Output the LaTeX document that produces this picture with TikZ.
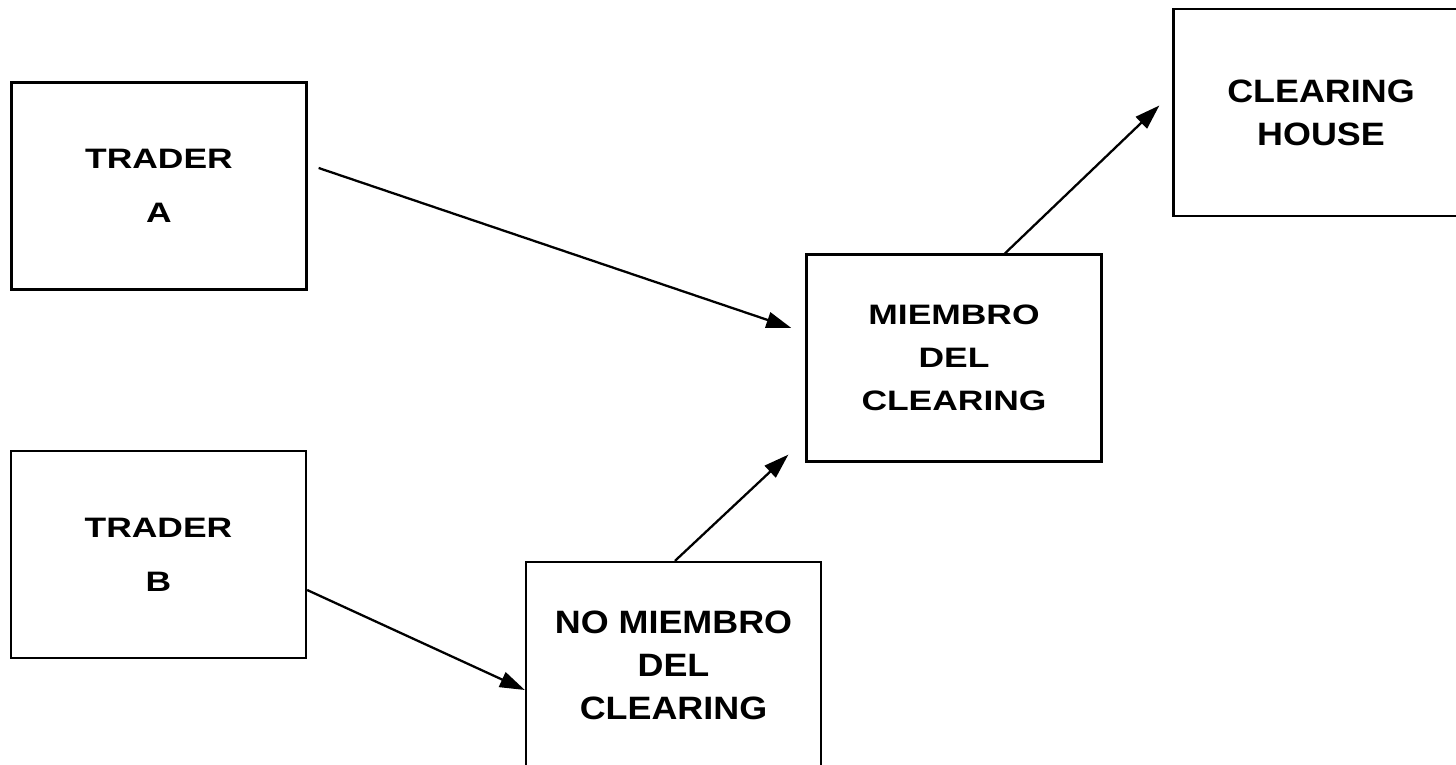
\documentclass[tikz,border=0pt]{standalone}
\usepackage{fontspec}
\newfontfamily\cajafont[FakeStretch=1.26]{Liberation Sans}
\newfontfamily\cajafontalta[FakeStretch=1.11]{Liberation Sans}
\usepackage{tikz}
\usetikzlibrary{arrows.meta, positioning}

\begin{document}
\begin{tikzpicture}[
	caja/.style={
		draw,
		line width=1.3pt,
		minimum width=5.9cm,
		minimum height=4.14cm,
		align=center,
		font=\cajafont\bfseries\fontsize{16}{24.5}\selectfont
	},
	cajaalta/.style={
		caja,
		font=\cajafontalta\bfseries\fontsize{18.4}{24.5}\selectfont
	},
	flecha/.style={
		line width=1.3pt,
		-{Triangle[length=0.5cm,width=0.32cm]}
	}
	]
	
	\useasboundingbox (0,0) rectangle (29.12,15.3);
	\clip (0,0) rectangle (29.12,15.3);
	
	% Cajas
	\node[caja, font=\cajafont\bfseries\fontsize{16}{30.7}\selectfont] (ta) at (3.18,11.58) {TRADER\\A};
	\node[caja, font=\cajafont\bfseries\fontsize{16}{30.7}\selectfont] (tb) at (3.17,4.21) {TRADER\\B};
	\node[caja] (mc) at (19.08,8.14) {MIEMBRO\\DEL\\CLEARING};
	\node[cajaalta] (nm) at (13.47,1.99) {NO MIEMBRO\\DEL\\CLEARING};
	\node[cajaalta] (ch) at (26.42,13.05) {CLEARING\\HOUSE};
	
	% Flechas
	\draw[flecha] ([xshift=0.22cm,yshift=0.36cm]ta.east) -- ([xshift=-0.28cm,yshift=0.6cm]mc.west);
	\draw[flecha] ([yshift=-0.71cm]tb.east) -- ([yshift=-0.49cm]nm.west);
	\draw[flecha] ([xshift=0.03cm]nm.north) -- ([xshift=-0.34cm,yshift=0.16cm]mc.south west);
	\draw[flecha] ([xshift=1.02cm]mc.north) -- ([xshift=-0.26cm,yshift=0.14cm]ch.west);
	
\end{tikzpicture}
\end{document}
